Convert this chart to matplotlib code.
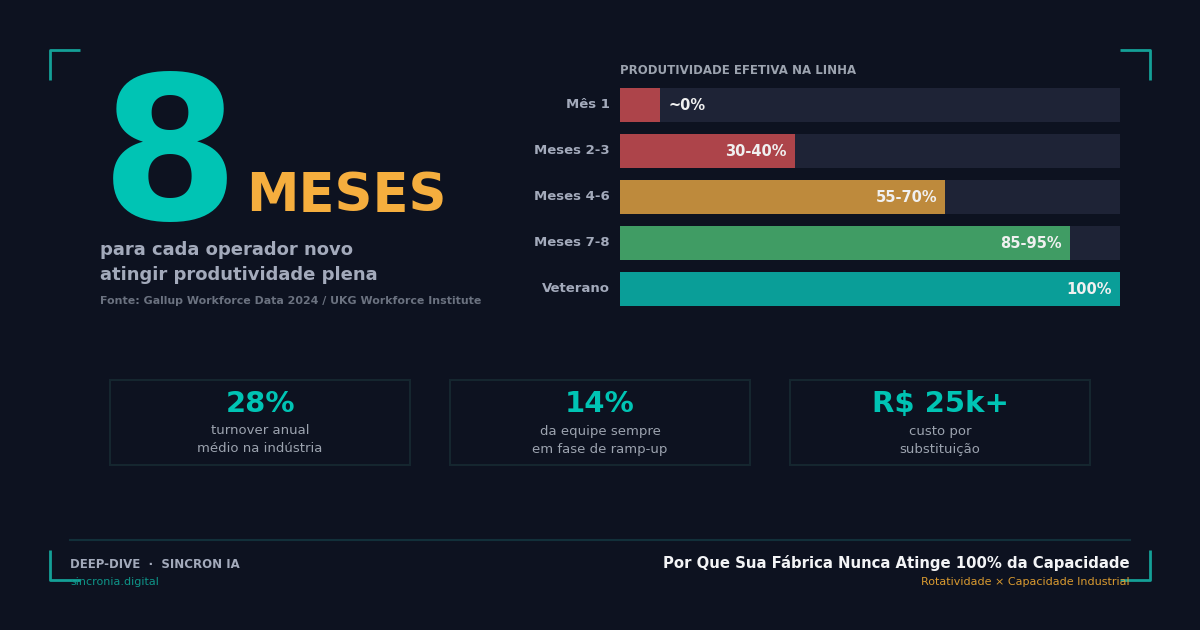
import matplotlib
matplotlib.use("Agg")
import matplotlib.pyplot as plt
from matplotlib.patches import Rectangle

plt.rcParams['font.family'] = ['DejaVu Sans']

# dados
etapas = ["Mês 1", "Meses 2-3", "Meses 4-6", "Meses 7-8", "Veterano"]
produtividade = [8, 35, 65, 90, 100]
rotulos = ["~0%", "30-40%", "55-70%", "85-95%", "100%"]
cores_barras = ["#ad444a", "#ad444a", "#be8a3c", "#409c64", "#0a9e98"]

card_valores = ["28%", "14%", "R$ 25k+"]
card_textos = ["turnover anual\nmédio na indústria",
               "da equipe sempre\nem fase de ramp-up",
               "custo por\nsubstituição"]

BG = "#0d1220"
TEAL = "#00c4b4"
ORANGE = "#f5ae3e"
GRAY = "#a3aabb"

W, H = 1200, 630
fig = plt.figure(figsize=(12, 6.3), dpi=100, facecolor=BG)

# camada de fundo em coordenadas de pixel
bg = fig.add_axes([0, 0, 1, 1])
bg.set_xlim(0, W)
bg.set_ylim(H, 0)
bg.axis("off")
bg.set_facecolor(BG)

# cantos
cc = "#14a097"
for x0, dx in [(50, 1), (1150, -1)]:
    bg.plot([x0, x0, x0 + 30 * dx], [80, 50, 50], color=cc, lw=2, solid_capstyle="butt")
    bg.plot([x0, x0, x0 + 30 * dx], [550, 580, 580], color=cc, lw=2, solid_capstyle="butt")

# destaque
bg.text(101, 219, "8", color=TEAL, fontsize=143, fontweight="bold", va="baseline", ha="left")
bg.text(246, 211, "MESES", color=ORANGE, fontsize=38, fontweight="bold", va="baseline", ha="left")
bg.text(100, 255, "para cada operador novo", color=GRAY, fontsize=13, fontweight="bold", va="baseline")
bg.text(100, 280, "atingir produtividade plena", color=GRAY, fontsize=13, fontweight="bold", va="baseline")
bg.text(100, 304, "Fonte: Gallup Workforce Data 2024 / UKG Workforce Institute",
        color="#6b7280", fontsize=7.9, fontweight="bold", va="baseline")

bg.text(620, 74, "PRODUTIVIDADE EFETIVA NA LINHA", color="#9ca3af", fontsize=8.5,
        fontweight="bold", va="baseline")

# barras
ax = fig.add_axes([620 / W, 1 - 306 / H, 500 / W, 218 / H])
ax.set_facecolor(BG)
n = len(etapas)
alt = 34 / 46
ypos = list(range(n))
ax.barh(ypos, [100] * n, height=alt, color="#1e2336")
ax.barh(ypos, produtividade, height=alt, color=cores_barras)
ax.set_xlim(0, 100)
ax.set_ylim(n - 1 + alt / 2, -alt / 2)
ax.axis("off")
for i, (v, r) in enumerate(zip(produtividade, rotulos)):
    if v < 15:
        ax.text(v + 1.6, i, r, color="#f0f0f0", fontsize=10.5, fontweight="bold", va="center", ha="left")
    else:
        ax.text(v - 1.6, i, r, color="#f0f0f0", fontsize=10.5, fontweight="bold", va="center", ha="right")
    ax.text(-2, i, etapas[i], color=GRAY, fontsize=9.5, fontweight="bold", va="center", ha="right")

# cards
for k, (val, txt) in enumerate(zip(card_valores, card_textos)):
    x0 = 110 + k * 340
    bg.add_patch(Rectangle((x0, 380), 300, 85, facecolor=BG, edgecolor="#15262f", lw=1.5))
    bg.text(x0 + 150, 404, val, color=TEAL, fontsize=21, fontweight="bold", ha="center", va="center")
    l1, l2 = txt.split("\n")
    bg.text(x0 + 150, 431, l1, color="#9ca3af", fontsize=9.5, ha="center", va="center")
    bg.text(x0 + 150, 449, l2, color="#9ca3af", fontsize=9.5, ha="center", va="center")

# rodape
bg.plot([70, 1130], [540, 540], color="#12303a", lw=1.5)
bg.text(70, 568, "DEEP-DIVE  ·  SINCRON IA", color=GRAY, fontsize=8.5, fontweight="bold", va="baseline")
bg.text(70, 585, "sincronia.digital", color="#0d9488", fontsize=8, va="baseline")
bg.text(1130, 568, "Por Que Sua Fábrica Nunca Atinge 100% da Capacidade", color="#f3f4f6",
        fontsize=10.7, fontweight="bold", va="baseline", ha="right")
bg.text(1130, 585, "Rotatividade × Capacidade Industrial", color="#d99a30", fontsize=8,
        va="baseline", ha="right")

fig.savefig("out.png", dpi=100, facecolor=BG)
